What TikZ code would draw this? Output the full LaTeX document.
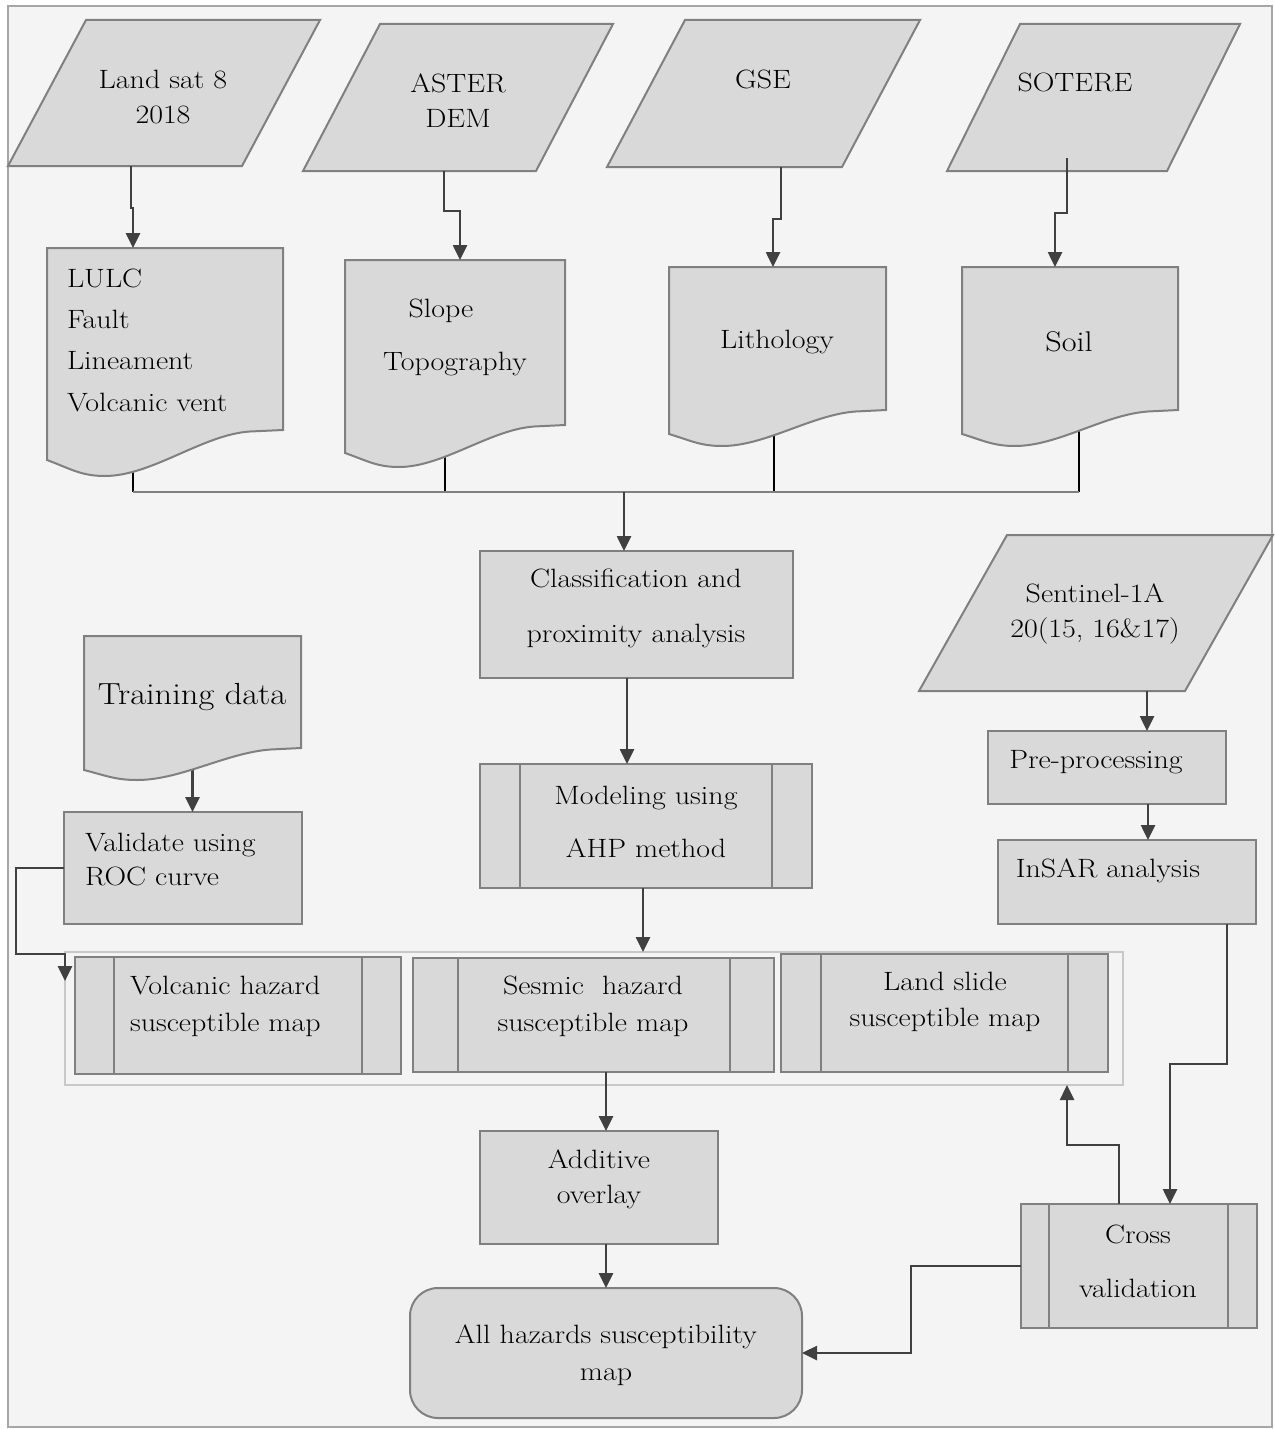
\documentclass[tikz,border=0pt]{standalone}
\usepackage{fontspec}
\setmainfont{Latin Modern Roman}[FakeStretch=1.13]
\usetikzlibrary{arrows.meta,calc}
\definecolor{cbg}{HTML}{F4F4F4}
\definecolor{cfill}{HTML}{D9D9D9}
\definecolor{cedge}{HTML}{808080}
\definecolor{ccon}{HTML}{404040}
\definecolor{cframe}{HTML}{A6A6A6}
\definecolor{cgrp}{HTML}{C8C8C8}
\newcommand{\parashape}[2]{\draw[shpst] (#1.north west) -- ([xshift=#2pt]#1.north east) -- (#1.south east) -- ([xshift=-#2pt]#1.south west) -- cycle;}
\newcommand{\docshape}[4]{% name, width, left drop, dip
  \draw[shpst] (#1.south east) -- (#1.north east) -- (#1.north west) -- ([yshift={-(#3)*1pt}]#1.south west)
  .. controls +({0.1*#2},{0.55*#4}) and +({-0.1*#2},0) .. ([xshift={0.245*#2*1pt},yshift={-(#3+#4)*1pt}]#1.south west)
  .. controls +({0.2*#2},0) and +({-0.2*#2},3) .. ([xshift={0.86*#2*1pt},yshift=-1.5pt]#1.south west)
  -- cycle;}
\newcommand{\procbars}[3]{\draw[barst] ([xshift=#2pt]#1.north west) -- ([xshift=#2pt]#1.south west);
  \draw[barst] ([xshift=-#3pt]#1.north east) -- ([xshift=-#3pt]#1.south east);}
\begin{document}
\begin{tikzpicture}[x=1pt,y=-1pt,
  boxst/.style={draw=cedge, fill=cfill, line width=2pt, inner sep=0pt, outer sep=0pt},
  hole/.style={inner sep=0pt, outer sep=0pt},
  shpst/.style={draw=cedge, fill=cfill, line width=2pt},
  barst/.style={draw=cedge, line width=2pt},
  txt/.style={inner sep=0pt, outer sep=0pt, align=center, text=black, font=\fontsize{26.5}{35}\selectfont},
  arr/.style={draw=ccon, line width=2.6pt, -{Triangle[length=15pt,width=14pt]}},
  drop/.style={draw=black, line width=1.5pt},
  busl/.style={draw=cedge, line width=1.5pt},
]
\useasboundingbox (0,0) rectangle (1274,1429);
\fill[white] (0,0) rectangle (1274,1429);
\draw[draw=cframe, fill=cbg, line width=1.2pt] (8,6) rectangle (1272,1427);

% rectangular boxes
\node[boxst, minimum width=313, minimum height=127] (class) at (636.5,614.5) {};
\node[boxst, minimum width=332, minimum height=124] (model) at (646,826) {};
\node[draw=cgrp, line width=1.2pt, inner sep=0pt, outer sep=0pt, minimum width=1058, minimum height=133] (grp) at (594,1018.5) {};
\node[boxst, minimum width=326, minimum height=117] (volc) at (238,1015.5) {};
\node[boxst, minimum width=361, minimum height=114] (sesm) at (593.5,1015) {};
\node[boxst, minimum width=327, minimum height=118] (lsl) at (944.5,1013) {};
\node[boxst, minimum width=238, minimum height=113] (addv) at (599,1187.5) {};
\node[boxst, rounded corners=28pt, minimum width=392, minimum height=130] (allh) at (606,1353) {};
\node[boxst, minimum width=238, minimum height=112] (val) at (183,868) {};
\node[boxst, minimum width=238, minimum height=73] (pre) at (1107,767.5) {};
\node[boxst, minimum width=258, minimum height=84] (insar) at (1127,882) {};
\node[boxst, minimum width=236, minimum height=124] (cross) at (1139,1266) {};
\procbars{model}{40}{40}
\procbars{volc}{39}{39}
\procbars{sesm}{45}{44}
\procbars{lsl}{40}{40}
\procbars{cross}{28}{29}

% frames of parallelograms and documents
\node[hole, minimum width=156, minimum height=146] (land) at (164,93) {};
\node[hole, minimum width=156, minimum height=147] (aster) at (458,97.5) {};
\node[hole, minimum width=157, minimum height=147] (gse) at (763.5,93.5) {};
\node[hole, minimum width=147, minimum height=147] (sotere) at (1093.5,97.5) {};
\node[hole, minimum width=178, minimum height=156] (sent) at (1096,613) {};
\node[hole, minimum width=236, minimum height=182] (lulc) at (165,339) {};
\node[hole, minimum width=220, minimum height=165] (slope) at (455,342.5) {};
\node[hole, minimum width=217, minimum height=143] (lith) at (777.5,338.5) {};
\node[hole, minimum width=216, minimum height=143] (soil) at (1070,338.5) {};
\node[hole, minimum width=217, minimum height=112] (train) at (192.5,692) {};

% drops to the bus (under the document shapes)
\coordinate (bus) at (624,492);
\coordinate (d1) at ([xshift=86pt]lulc.south west);
\coordinate (d2) at ([xshift=100pt]slope.south west);
\coordinate (d3) at ([xshift=105pt]lith.south west);
\coordinate (d4) at ([xshift=117pt]soil.south west);
\draw[drop] (d1) -- (d1 |- bus);
\draw[drop] (d2) -- (d2 |- bus);
\draw[drop] (d3) -- (d3 |- bus);
\draw[drop] (d4) -- (d4 |- bus);
\draw[busl] (d1 |- bus) -- (d4 |- bus);
\draw[arr] (train.south) -- (train.south |- val.north);

% shapes
\parashape{land}{78}
\parashape{aster}{77}
\parashape{gse}{78}
\parashape{sotere}{73}
\parashape{sent}{88}
\docshape{lulc}{236}{30}{16}
\docshape{slope}{220}{28}{14}
\docshape{lith}{217}{24}{12}
\docshape{soil}{216}{24}{12}
\docshape{train}{217}{22}{10}

% texts
\node[txt] (tland) at (163,97.5) {Land sat 8\\2018};
\node[txt] (taster) at (458,100.5) {ASTER\\DEM};
\node[txt] (tgse) at (763,79) {GSE};
\node[txt] (tsotere) at (1075,82) {SOTERE};
\node[txt] (tsent) at (1095,614) {Sentinel-1A\\20(15, 16\&17)};
\node[txt, align=left, anchor=west, font=\fontsize{26.5}{41.3}\selectfont] (tlulc) at (67,340) {LULC\\Fault\\Lineament\\Volcanic vent};
\node[txt] (tslopea) at (441,311) {Slope};
\node[txt] (tslopeb) at (455,364) {Topography};
\node[txt] (tlith) at (777,342) {Lithology};
\node[txt, font=\fontsize{28.5}{35}\selectfont] (tsoil) at (1069,342) {Soil};
\node[txt, font=\fontsize{30.5}{35}\selectfont] (ttrain) at (192,697) {Training data};
\node[txt, font=\fontsize{26.5}{55}\selectfont] (tclass) at (636,608.5) {Classification and\\proximity analysis};
\node[txt, font=\fontsize{26.5}{53}\selectfont] (tmodel) at (646,821.5) {Modeling using\\AHP method};
\node[txt, align=left, anchor=west, font=\fontsize{26.5}{37}\selectfont] (tvolc) at (130,1006.5) {Volcanic hazard\\susceptible map};
\node[txt, font=\fontsize{26.5}{37}\selectfont] (tsesm) at (593,1006.5) {Sesmic\ \ hazard\\susceptible map};
\node[txt, font=\fontsize{26.5}{36}\selectfont] (tlsl) at (945,1002) {Land slide\\susceptible map};
\node[txt] (taddv) at (599,1179.5) {Additive\\overlay};
\node[txt, font=\fontsize{26.5}{37}\selectfont] (tallh) at (606,1355.5) {All hazards susceptibility\\map};
\node[txt, align=left, anchor=west, font=\fontsize{26.5}{34}\selectfont] (tval) at (85,860) {Validate using\\ROC curve};
\node[txt] (tpre) at (1096,762) {Pre-processing};
\node[txt] (tinsar) at (1108,871) {InSAR analysis};
\node[txt, font=\fontsize{26.5}{54}\selectfont] (tcross) at (1138,1261) {Cross\\validation};

% connectors
\draw[arr] ([xshift=45pt]land.south west) -- ++(0,42) -| ([xshift=86pt]lulc.north west);
\draw[arr] ([xshift=64pt]aster.south west) -- ++(0,40) -| ([xshift=115pt]slope.north west);
\draw[arr] ([xshift=96pt]gse.south west) -- ++(0,52) -| ([xshift=104pt]lith.north west);
\draw[arr] ([xshift=47pt,yshift=13pt]sotere.south west) -- ++(0,55) -| ([xshift=93pt]soil.north west);
\draw[arr] (bus) -- (bus |- class.north);
\coordinate (m1) at ([xshift=-9.5pt]class.south);
\draw[arr] (m1) -- (m1 |- model.north);
\coordinate (m2) at ([xshift=-3pt]model.south);
\draw[arr] (m2) -- (m2 |- grp.north);
\draw[arr] (sesm.south -| allh.north) -- (addv.north -| allh.north);
\draw[arr] (addv.south -| allh.north) -- (allh.north);
\draw[arr] (val.west) -- ++(-48,0) |- ([yshift=-2pt]grp.north west) -- ++(0,27);
\coordinate (s1) at ([xshift=51pt]sent.south);
\draw[arr] (s1) -- (s1 |- pre.north);
\coordinate (p1) at ([xshift=41pt]pre.south);
\draw[arr] (p1) -- (p1 |- insar.north);
\draw[arr] ([xshift=100pt]insar.south) -- ++(0,140) -| ([xshift=31pt]cross.north);
\draw[arr] ([xshift=-20pt]cross.north) -- ++(0,-59) -| ([xshift=-56pt]grp.south east);
\draw[arr] (cross.west) -- ++(-110,0) |- (allh.east);
\end{tikzpicture}
\end{document}
